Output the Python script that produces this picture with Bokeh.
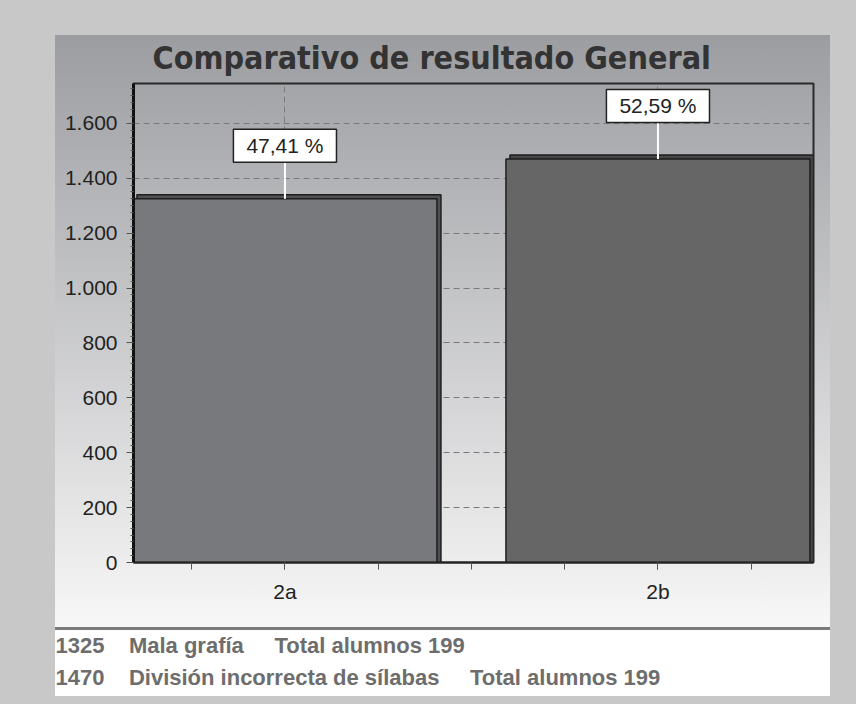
from bokeh.plotting import figure
from bokeh.models import ColumnDataSource, FixedTicker, Label, Range1d, Title
from bokeh.embed import file_html
from bokeh.resources import INLINE

try:
    from bokeh.models import GlobalInlineStyleSheet
except Exception:
    GlobalInlineStyleSheet = None

# ---------------- data ----------------
categories = ["2a", "2b"]
counts = [1325, 1470]
descriptions = ["Mala grafía", "División incorrecta de sílabas"]
totals = [199, 199]
y_ticks = [0, 200, 400, 600, 800, 1000, 1200, 1400, 1600]
title_text = "Comparativo de resultado General"

total_count = sum(counts)
shares = [f"{c / total_count * 100:.2f}".replace(".", ",") + " %" for c in counts]
idx = list(range(len(categories)))

# ---------------- layout ----------------
W, H = 848, 700
F_LEFT, F_RIGHT, F_TOP, F_BOTTOM = 133, 813, 83, 562     # frame in px
X0, X1 = -0.406, 1.417
Y0, Y1 = 0, 1745
ux = (X1 - X0) / (F_RIGHT - F_LEFT)     # data units per px
uy = (Y1 - Y0) / (F_BOTTOM - F_TOP)
BAR_W = 0.815

TXT = "Liberation Sans"
NB = "\u00a0"

p = figure(width=W, height=H, x_range=Range1d(X0, X1), y_range=Range1d(Y0, Y1),
           output_backend="svg", toolbar_location=None,
           min_border_left=F_LEFT, min_border_right=W - F_RIGHT,
           min_border_top=F_TOP, min_border_bottom=H - F_BOTTOM,
           border_fill_color=None, background_fill_color=None,
           outline_line_color="#2a2a2a", outline_line_width=2)

p.styles = {
    "background": (
        "linear-gradient(#9c9da1, #f7f7f7) 55px 35px / 775px 592px no-repeat, "
        "linear-gradient(#7a7a7a, #7a7a7a) 55px 627px / 775px 3px no-repeat, "
        "linear-gradient(#ffffff, #ffffff) 55px 630px / 775px 66px no-repeat, "
        "#c8c8c8"
    )
}
if GlobalInlineStyleSheet is not None:
    p.stylesheets = [GlobalInlineStyleSheet(css="body { background: #c8c8c8; }")]

# title
p.title.text = title_text
p.title.align = "left"
p.title.offset = 19
p.title.standoff = 14
p.title.text_font = "DejaVu Sans Condensed, DejaVu Sans"
p.title.text_font_size = "32px"
p.title.text_font_style = "bold"
p.title.text_color = "#333333"

# grids
p.xgrid.ticker = FixedTicker(ticks=idx)
p.xgrid.grid_line_color = "#7a7a7a"
p.xgrid.grid_line_dash = "6 4"
p.ygrid.ticker = FixedTicker(ticks=y_ticks)
p.ygrid.grid_line_color = "#7a7a7a"
p.ygrid.grid_line_dash = "6 4"

# x axis
p.xaxis.ticker = FixedTicker(ticks=idx, minor_ticks=[i * 0.25 - 0.25 for i in range(4 * len(idx) - 1)])
p.xaxis.major_label_overrides = {i: c for i, c in zip(idx, categories)}
p.xaxis.axis_line_color = "#222222"
p.xaxis.axis_line_width = 2
p.xaxis.major_tick_in = 0
p.xaxis.major_tick_out = 7
p.xaxis.minor_tick_in = 0
p.xaxis.minor_tick_out = 7
p.xaxis.major_tick_line_color = "#555555"
p.xaxis.minor_tick_line_color = "#555555"
p.xaxis.major_label_text_font = TXT
p.xaxis.major_label_text_font_size = "21px"
p.xaxis.major_label_text_color = "#222222"
p.xaxis.major_label_standoff = 10

# y axis
p.yaxis.ticker = FixedTicker(ticks=y_ticks, minor_ticks=list(range(0, 1745, 25)))
p.yaxis.major_label_overrides = {t: f"{t:,}".replace(",", ".") for t in y_ticks}
p.yaxis.axis_line_color = "#111111"
p.yaxis.axis_line_width = 3
p.yaxis.major_tick_in = 0
p.yaxis.major_tick_out = 7
p.yaxis.minor_tick_in = 0
p.yaxis.minor_tick_out = 3
p.yaxis.major_tick_line_color = "#555555"
p.yaxis.minor_tick_line_color = "#555555"
p.yaxis.major_label_text_font = TXT
p.yaxis.major_label_text_font_size = "21px"
p.yaxis.major_label_text_color = "#222222"
p.yaxis.major_label_standoff = 9

# bars (3D back face + front face)
front_colors = ["#78797d", "#666666"]
back_colors = ["#505154", "#474747"]
back = ColumnDataSource(dict(x=[i + 4 * ux for i in idx], top=[c + 4 * uy for c in counts],
                             color=back_colors))
front = ColumnDataSource(dict(x=idx, top=counts, color=front_colors))
p.vbar(x="x", top="top", width=BAR_W, source=back, fill_color="color",
       line_color="#1e1e1e", line_width=1.5)
p.vbar(x="x", top="top", width=BAR_W, source=front, fill_color="color",
       line_color="#1e1e1e", line_width=1.5)

# connectors + percentage labels
p.segment(x0=idx, y0=counts, x1=idx, y1=[c + 37 * uy for c in counts],
          line_color="white", line_width=2)
for i, c, s in zip(idx, counts, shares):
    p.add_layout(Label(x=i, y=c, y_offset=53, text=s, text_align="center",
                       text_baseline="middle", text_font=TXT, text_font_size="21px",
                       text_color="#222222", background_fill_color="white",
                       border_line_color="#222222", border_line_width=1.5,
                       padding=(13, 5)))

# footer lines (below the chart): spacer, then one title per line
p.add_layout(Title(text=" ", text_font_size="1px", standoff=21), "below")
standoffs = [2, 8]
for k, (c, d, t) in enumerate(zip(counts, descriptions, totals)):
    line = f"{c}{NB * 4}{d}{NB * 5}Total alumnos {t}"
    p.add_layout(Title(text=line, align="left", offset=55 - F_LEFT, standoff=standoffs[k],
                       text_font=TXT, text_font_size="22px", text_font_style="bold",
                       text_color="#6d6d6d"), "below")

open("out.html", "w").write(file_html(p, INLINE))
